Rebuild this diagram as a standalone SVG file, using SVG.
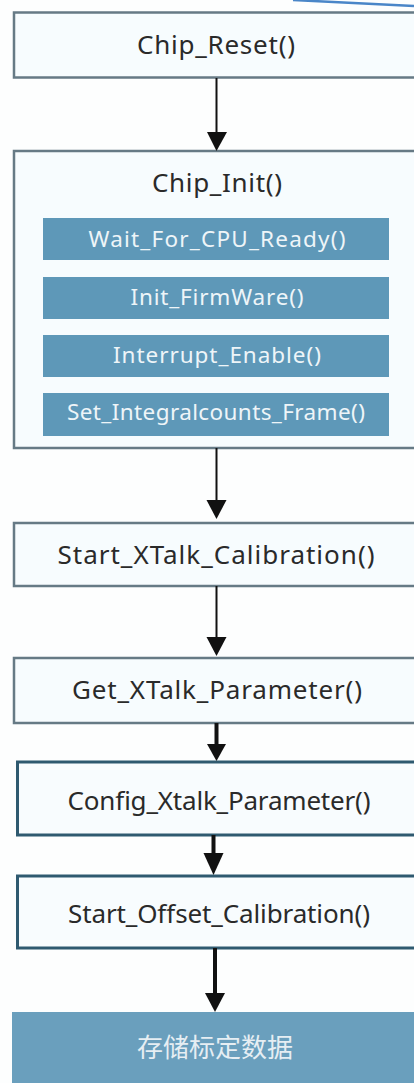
<svg xmlns="http://www.w3.org/2000/svg" width="414" height="1083" viewBox="0 0 414 1083">
<style>
.box{fill:#f7fcfe;stroke:#667a85;stroke-width:2.5}
.box2{fill:#f8fcfe;stroke:#2f5a70;stroke-width:3}
.sub{fill:#5e98b8}
.lbl{font-family:"Noto Sans","Noto Sans CJK SC",sans-serif;font-size:26px;fill:#2a2a2a;text-anchor:middle}
.sl{font-family:"Noto Sans","Noto Sans CJK SC",sans-serif;font-size:22.5px;fill:#eef5f8;text-anchor:middle}
.cn{font-family:"Noto Sans CJK SC",sans-serif;font-size:26px;fill:#e6eef3;text-anchor:middle}
.ln{stroke:#111;stroke-width:2;fill:none}
.lnb{stroke:#111;stroke-width:4;fill:none}
.hd{fill:#111}
</style>
<rect width="414" height="1083" fill="#fdfefe"/>
<path d="M293 0 Q350 3 414 6" stroke="#4a86c8" stroke-width="2.5" fill="none"/>
<g id="chip_reset">
<rect class="box" x="14" y="12.5" width="410" height="65"/>
<text class="lbl" x="216" y="54" textLength="158">Chip_Reset()</text>
</g>
<g id="chip_init">
<rect class="box" x="14" y="151" width="410" height="297"/>
<text class="lbl" x="217" y="192" textLength="130">Chip_Init()</text>
<rect class="sub" x="43" y="218" width="346" height="42"/>
<text class="sl" x="217" y="247" textLength="257">Wait_For_CPU_Ready()</text>
<rect class="sub" x="43" y="277" width="346" height="42"/>
<text class="sl" x="217" y="305" textLength="173">Init_FirmWare()</text>
<rect class="sub" x="43" y="335" width="346" height="42"/>
<text class="sl" x="217" y="363" textLength="208">Interrupt_Enable()</text>
<rect class="sub" x="43" y="393" width="346" height="43"/>
<text class="sl" x="216" y="420" textLength="298">Set_Integralcounts_Frame()</text>
</g>
<g id="start_xtalk">
<rect class="box" x="14" y="523" width="410" height="63"/>
<text class="lbl" x="216" y="564" textLength="317">Start_XTalk_Calibration()</text>
</g>
<g id="get_xtalk">
<rect class="box" x="14" y="658" width="410" height="65"/>
<text class="lbl" x="217" y="699" textLength="290">Get_XTalk_Parameter()</text>
</g>
<g id="config_xtalk">
<rect class="box2" x="17.5" y="762" width="410" height="73"/>
<text class="lbl" x="219" y="810" textLength="303">Config_Xtalk_Parameter()</text>
</g>
<g id="start_offset">
<rect class="box2" x="17.5" y="876" width="410" height="72"/>
<text class="lbl" x="219" y="923" textLength="302">Start_Offset_Calibration()</text>
</g>
<g id="store">
<rect x="12" y="1012" width="402" height="71" fill="#6a9fbd"/>
<text class="cn" x="215" y="1057" textLength="156">存储标定数据</text>
</g>
<g id="connectors">
<line class="ln" x1="216.5" y1="78" x2="216.5" y2="134"/>
<polygon class="hd" points="207,132 227,132 216.5,151"/>
<line class="ln" x1="216.5" y1="448" x2="216.5" y2="502"/>
<polygon class="hd" points="206.5,500 226.5,500 216.5,519"/>
<line class="ln" x1="216.5" y1="586" x2="216.5" y2="639"/>
<polygon class="hd" points="206.5,637 226.5,637 216.5,656"/>
<line class="lnb" x1="216.5" y1="723" x2="216.5" y2="746"/>
<polygon class="hd" points="207,744 226,744 216.5,761"/>
<line class="lnb" x1="213.5" y1="835" x2="213.5" y2="856"/>
<polygon class="hd" points="203.5,853 223.5,853 213.5,875"/>
<line class="lnb" x1="215" y1="948" x2="215" y2="995"/>
<polygon class="hd" points="205,993 225,993 215,1012"/>
</g>
</svg>
